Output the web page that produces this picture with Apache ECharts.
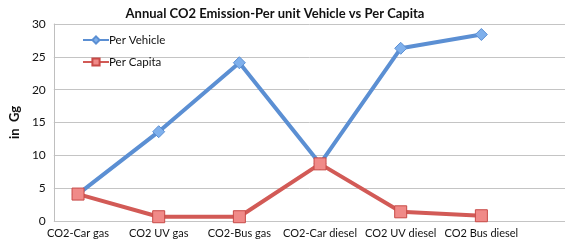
<!DOCTYPE html>
<html>
<head>
<meta charset="utf-8">
<script src="https://cdn.jsdelivr.net/npm/echarts@6/dist/echarts.min.js"></script>
<style>
  html, body { margin: 0; padding: 0; background: #fff; }
  #chart { width: 567px; height: 241px; }
</style>
</head>
<body>
<div id="chart"></div>
<script>
var categories = ['CO2-Car gas', 'CO2 UV gas', 'CO2-Bus gas', 'CO2-Car diesel', 'CO2 UV diesel', 'CO2 Bus diesel'];
var perVehicle = [4.1, 13.6, 24.1, 8.7, 26.3, 28.4];
var perCapita = [4.1, 0.65, 0.65, 8.7, 1.4, 0.8];
var yTicks = [0, 5, 10, 15, 20, 25, 30];

var chart = echarts.init(document.getElementById('chart'));
var font = 'Lato';

var option = {
  animation: false,
  title: {
    text: 'Annual CO2 Emission-Per unit Vehicle vs Per Capita',
    left: 270,
    textAlign: 'center',
    top: 2,
    textStyle: { fontFamily: font, fontSize: 13, fontWeight: 'bold', color: '#111' }
  },
  legend: {
    orient: 'vertical',
    left: 82,
    top: 34,
    padding: 0,
    itemGap: 10,
    itemWidth: 26,
    itemHeight: 9,
    textStyle: { fontFamily: font, fontSize: 11.5, color: '#111', padding: [0, 0, 0, -5] },
    data: ['Per Vehicle', 'Per Capita']
  },
  grid: [
    { left: 41, right: 2, top: 24, bottom: 20 },
    { left: 37.7, width: 484, top: 24, bottom: 20 }
  ],
  xAxis: [
    {
      type: 'value', gridIndex: 0, min: 0, max: 1,
      axisLine: { show: false }, axisTick: { show: false },
      axisLabel: { show: false }, splitLine: { show: false }
    },
    {
      type: 'category', gridIndex: 1, data: categories,
      axisLine: { show: false }, axisTick: { show: false },
      axisLabel: { fontFamily: font, fontSize: 11, color: '#111', margin: 7, interval: 0 }
    }
  ],
  yAxis: [
    {
      type: 'value', gridIndex: 0, min: yTicks[0], max: yTicks[yTicks.length - 1], interval: 5,
      name: 'in  Gg',
      nameLocation: 'middle',
      nameGap: 26,
      nameRotate: 90,
      nameTextStyle: { fontFamily: font, fontSize: 13, fontWeight: 'bold', color: '#111' },
      axisLine: { show: true, lineStyle: { color: '#bfbfbf', width: 1 } },
      axisTick: { show: false },
      axisLabel: { fontFamily: font, fontSize: 12, color: '#111', margin: 8 },
      splitLine: { show: true, lineStyle: { color: '#c4c4c4', width: 1 } }
    },
    {
      type: 'value', gridIndex: 1, min: 0, max: 30,
      axisLine: { show: false }, axisTick: { show: false },
      axisLabel: { show: false }, splitLine: { show: false }
    }
  ],
  series: [
    {
      name: 'Per Vehicle',
      type: 'line',
      xAxisIndex: 1, yAxisIndex: 1,
      data: perVehicle,
      symbol: 'diamond',
      symbolSize: 12,
      lineStyle: { color: '#5b8fd3', width: 4 },
      itemStyle: { color: '#7fb0ec', borderColor: '#5b8fd3', borderWidth: 1 },
      z: 2
    },
    {
      name: 'Per Capita',
      type: 'line',
      xAxisIndex: 1, yAxisIndex: 1,
      data: perCapita,
      symbol: 'rect',
      symbolSize: 12,
      lineStyle: { color: '#d25a56', width: 4 },
      itemStyle: { color: '#f08a88', borderColor: '#c84a47', borderWidth: 1 },
      z: 3
    }
  ]
};

chart.setOption(option);
</script>
</body>
</html>
